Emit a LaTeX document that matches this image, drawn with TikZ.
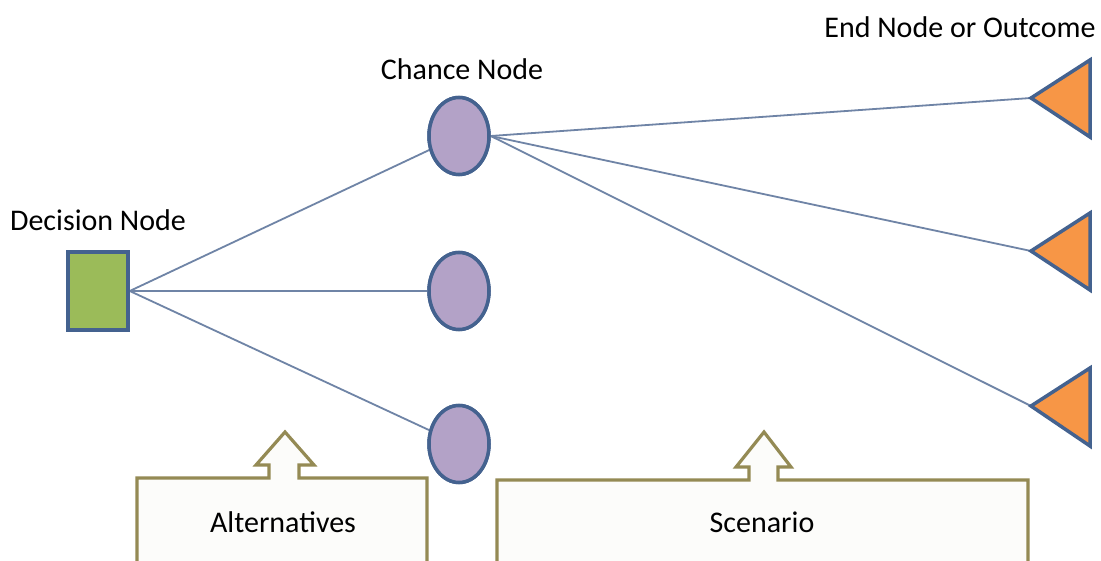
\documentclass[tikz,border=0pt]{standalone}
\usepackage{fontspec}
\setmainfont{Carlito}
\usetikzlibrary{shapes.geometric}
\definecolor{nodeborder}{HTML}{44628F}
\definecolor{linkcol}{HTML}{6F84A6}
\definecolor{decfill}{HTML}{9BBB59}
\definecolor{chfill}{HTML}{B3A2C7}
\definecolor{endfill}{HTML}{F79646}
\definecolor{callborder}{HTML}{948A54}
\definecolor{callfill}{HTML}{FCFCFA}
\tikzset{
  decbox/.style={draw=nodeborder, line width=3.5pt, fill=decfill, minimum width=60pt, minimum height=78pt, inner sep=0pt},
  chnode/.style={ellipse, draw=nodeborder, line width=3.5pt, fill=chfill, minimum width=60pt, minimum height=77pt, inner sep=0pt},
  endtri/.style={draw=nodeborder, line width=3.5pt, fill=endfill, line join=miter},
  link/.style={draw=linkcol, line width=1.8pt},
  lbl/.style={font=\fontsize{30}{32}\selectfont, inner sep=0pt},
  callout/.style={draw=callborder, line width=3.2pt, fill=callfill, line join=miter},
}
\begin{document}
\begin{tikzpicture}[x=1pt,y=-1pt]
\useasboundingbox (0,0) rectangle (1101,561);
\fill[white] (0,0) rectangle (1101,561);
\begin{scope}
\clip (0,0) rectangle (1101,561);
% callouts
\draw[callout] (137,575) -- (137,478) -- (269,478) -- (269,465) -- (256,465) -- (285,432) -- (314,465) -- (299,465) -- (299,478) -- (427,478) -- (427,575);
\draw[callout] (497,575) -- (497,480) -- (749,480) -- (749,467) -- (736,467) -- (764,432) -- (791,467) -- (778,467) -- (778,480) -- (1028,480) -- (1028,575);
\end{scope}
\node[lbl] (altlbl) at (283,522) {Alternatives};
\node[lbl] (scnlbl) at (762,522) {Scenario};
% nodes
\node[decbox] (dec) at (98,291) {};
\node[chnode] (c1) at (459,136) {};
\node[chnode] (c2) at (459,291) {};
\node[chnode] (c3) at (459,444) {};
\coordinate (e1) at (1031,98);
\coordinate (e2) at (1031,251);
\coordinate (e3) at (1031,406);
% links
\draw[link] (dec.east) -- (c1);
\draw[link] (dec.east) -- (c2);
\draw[link] (dec.east) -- (c3);
\draw[link] (c1.east) -- (e1);
\draw[link] (c1.east) -- (e2);
\draw[link] (c1.east) -- (e3);
% redraw nodes on top
\node[decbox] at (98,291) {};
\node[chnode] at (459,136) {};
\node[chnode] at (459,291) {};
\node[chnode] at (459,444) {};
\draw[endtri] (e1) -- (1090,60) -- (1090,137) -- cycle;
\draw[endtri] (e2) -- (1090,213) -- (1090,290) -- cycle;
\draw[endtri] (e3) -- (1090,368) -- (1090,446) -- cycle;
% labels
\node[lbl] (declbl) at (98,220) {Decision Node};
\node[lbl] (chlbl) at (462,69) {Chance Node};
\node[lbl] (endlbl) at (960,27) {End Node or Outcome};
\end{tikzpicture}
\end{document}
